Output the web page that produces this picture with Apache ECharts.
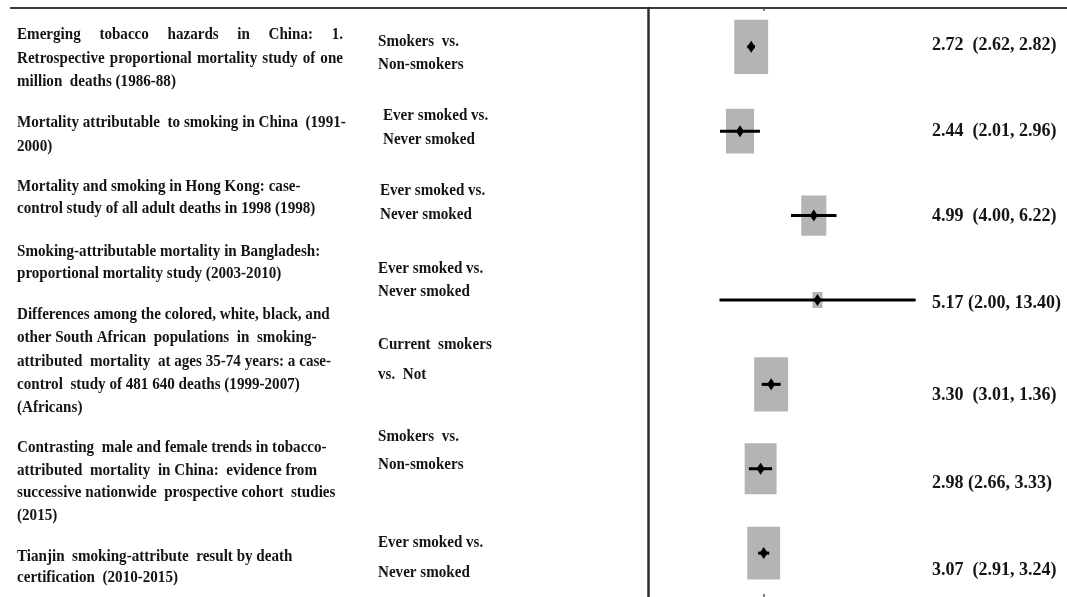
<!DOCTYPE html>
<html><head><meta charset="utf-8">
<script src="https://cdn.jsdelivr.net/npm/echarts@6/dist/echarts.min.js"></script>
<style>html,body{margin:0;padding:0;background:#fff}#c{width:1067px;height:597px}</style>
</head><body><div id="c"></div>
<script>
// ---- data ----
const studies = [
  "Emerging tobacco hazards in China: 1.\nRetrospective proportional mortality study of one\nmillion  deaths (1986-88)",
  "Mortality attributable  to smoking in China  (1991-\n2000)",
  "Mortality and smoking in Hong Kong: case-\ncontrol study of all adult deaths in 1998 (1998)",
  "Smoking-attributable mortality in Bangladesh:\nproportional mortality study (2003-2010)",
  "Differences among the colored, white, black, and\nother South African  populations  in  smoking-\nattributed  mortality  at ages 35-74 years: a case-\ncontrol  study of 481 640 deaths (1999-2007)\n(Africans)",
  "Contrasting  male and female trends in tobacco-\nattributed  mortality  in China:  evidence from\nsuccessive nationwide  prospective cohort  studies\n(2015)",
  "Tianjin  smoking-attribute  result by death\ncertification  (2010-2015)"
];
const comparisons = [
  "Smokers  vs.\nNon-smokers",
  "Ever smoked vs.\nNever smoked",
  "Ever smoked vs.\nNever smoked",
  "Ever smoked vs.\nNever smoked",
  "Current  smokers\nvs.  Not",
  "Smokers  vs.\nNon-smokers",
  "Ever smoked vs.\nNever smoked"
];
const estimates = [2.72, 2.44, 4.99, 5.17, 3.30, 2.98, 3.07];
const lowers    = [2.62, 2.01, 4.00, 2.00, 3.01, 2.66, 2.91];
const uppers    = [2.82, 2.96, 6.22, 13.40, 3.62, 3.33, 3.24]; // row 5 upper
const ciLabels = [
  "2.72  (2.62, 2.82)",
  "2.44  (2.01, 2.96)",
  "4.99  (4.00, 6.22)",
  "5.17 (2.00, 13.40)",
  "3.30  (3.01, 1.36)",
  "2.98 (2.66, 3.33)",
  "3.07  (2.91, 3.24)"
];
const weights = [17.3, 14.3, 12.8, 5.1, 17.3, 16.3, 16.8];
const pooledRef = 3.08; // faint reference marks at the top and bottom edges

// ---- layout ----
const FONT = 'bold 16.5px "Liberation Serif", "Times New Roman", serif';
const SX = 0.915;
const FONT_CI = 'bold 18px "Liberation Serif", "Times New Roman", serif';
const TXT = '#141414';
const studyX = 17, studyRight = 343;
const studyFirstY = [35, 123, 187, 252, 315, 448, 557];
const studyLineH  = [23.5, 24, 22, 22, 23.2, 22.5, 20.5];
const justify = {"0-0": true, "0-1": true};
const compX = [378, 383, 380, 378, 378, 378, 378];
const compFirstY = [42, 116, 191, 269, 345, 437, 543];
const compLineH  = [23, 24, 24, 23, 30, 28, 30];
const ciX = 932;
const ciY = [45, 131, 216, 303, 395, 483, 570];
const gridLeft = 648, gridTop = 8, pxPerDecade = 237.5, chartW = 1067, chartH = 597;

const ctx = document.createElement('canvas').getContext('2d');
function textEl(str, x, y, font, sx) {
  return {type: 'text', x: x, y: y, scaleX: sx, scaleY: 1, silent: true,
    style: {text: str, font: font, fill: TXT, textVerticalAlign: 'middle', verticalAlign: 'middle', textAlign: 'left', align: 'left'}};
}
const graphics = [
  {type: 'line', shape: {x1: 10, y1: gridTop, x2: chartW, y2: gridTop}, style: {stroke: '#3a3a3a', lineWidth: 2}, silent: true}
];
studies.forEach((s, i) => {
  s.split('\n').forEach((line, j) => {
    const y = studyFirstY[i] + j * studyLineH[i];
    if (justify[i + '-' + j]) {
      ctx.font = FONT;
      const words = line.split(/\s+/);
      const ws = words.map(w => ctx.measureText(w).width * SX);
      const total = ws.reduce((a, b) => a + b, 0);
      const gap = (studyRight - studyX - total) / (words.length - 1);
      let x = studyX;
      words.forEach((w, k) => { graphics.push(textEl(w, x, y, FONT, SX)); x += ws[k] + gap; });
    } else {
      graphics.push(textEl(line, studyX, y, FONT, SX));
    }
  });
});
comparisons.forEach((s, i) => {
  s.split('\n').forEach((line, j) => {
    graphics.push(textEl(line, compX[i], compFirstY[i] + j * compLineH[i], FONT, SX));
  });
});
ciLabels.forEach((s, i) => graphics.push(textEl(s, ciX, ciY[i], FONT_CI, 1)));

const rows = estimates.map((e, i) => i);
const xMax = Math.pow(10, (chartW - gridLeft) / pxPerDecade);
const lineLen = chartH - gridTop;
const chart = echarts.init(document.getElementById('c'), null, {renderer: 'canvas'});
chart.setOption({
  animation: false,
  backgroundColor: '#fff',
  grid: {left: gridLeft, top: gridTop, right: 0, bottom: 0, containLabel: false},
  xAxis: {type: 'log', logBase: 10, min: 1, max: xMax, show: false},
  yAxis: {type: 'value', inverse: true, min: -0.46, max: 6.52,
    axisLine: {show: true, onZero: false, lineStyle: {color: '#2e2e2e', width: 2.5}},
    axisTick: {show: false}, axisLabel: {show: false}, splitLine: {show: false}},
  series: [
    {type: 'scatter', z: 2, symbol: 'rect',
      data: estimates.map((e, i) => [e, rows[i], weights[i]]),
      symbolSize: v => [v[2] * 1.96, v[2] * 1.96 * 1.6],
      itemStyle: {color: '#b4b4b4', opacity: 1}, silent: true},
    {type: 'custom', z: 3, silent: true,
      data: lowers.map((l, i) => [l, uppers[i], rows[i]]),
      encode: {x: [0, 1], y: 2},
      renderItem: (params, api) => {
        const p1 = api.coord([api.value(0), api.value(2)]);
        const p2 = api.coord([api.value(1), api.value(2)]);
        return {type: 'line', shape: {x1: p1[0], y1: p1[1], x2: p2[0], y2: p2[1]},
          style: {stroke: '#000', lineWidth: 3}};
      }},
    {type: 'scatter', z: 4, symbol: 'diamond', symbolSize: [8, 12],
      data: estimates.map((e, i) => [e, rows[i]]),
      itemStyle: {color: '#000', opacity: 1}, silent: true,
      markLine: {silent: true, symbol: 'none', label: {show: false},
        lineStyle: {color: '#555', width: 1.5, type: [3, lineLen - 6, 3]},
        data: [{xAxis: pooledRef}]}}
  ],
  graphic: graphics
});
</script></body></html>
